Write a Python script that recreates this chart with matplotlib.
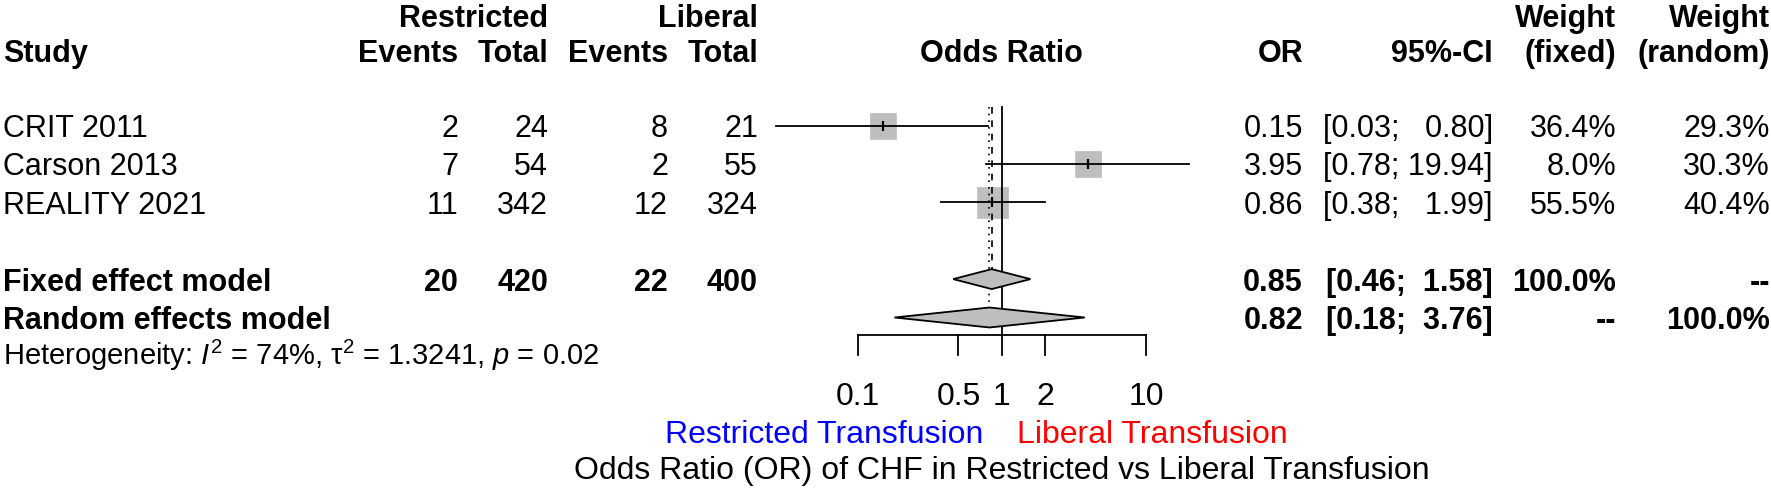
import numpy as np
import matplotlib
matplotlib.use("Agg")
import matplotlib.pyplot as plt
from matplotlib.patches import Polygon

plt.rcParams['font.family'] = ['Liberation Sans', 'DejaVu Sans']
plt.rcParams['mathtext.fontset'] = 'custom'
plt.rcParams['mathtext.rm'] = 'Liberation Sans'
plt.rcParams['mathtext.it'] = 'Liberation Sans:italic'
plt.rcParams['mathtext.bf'] = 'Liberation Sans:bold'

# ------------------------------------------------------- данные
studies = ["CRIT 2011", "Carson 2013", "REALITY 2021"]
ev_r = [2, 7, 11]
n_r = [24, 54, 342]
ev_l = [8, 2, 12]
n_l = [21, 55, 324]
or_est = [0.15, 3.95, 0.86]
ci_lo = [0.027, 0.78, 0.38]
ci_hi = [0.80, 19.94, 1.99]
w_fixed = [36.4, 8.0, 55.5]
w_random = [29.3, 30.3, 40.4]

pooled_names = ["Fixed effect model", "Random effects model"]
pooled_or = [0.85, 0.82]
pooled_lo = [0.46, 0.18]
pooled_hi = [1.58, 3.76]
pooled_wf = ["100.0%", "--"]
pooled_wr = ["--", "100.0%"]
pooled_ev_r, pooled_n_r = 20, 420
pooled_ev_l, pooled_n_l = 22, 400

ticks = [0.1, 0.5, 1, 2, 10]
het_text = (r"Heterogeneity: $\mathit{I}^{2}$ = 74%, "
            r"$\mathrm{\tau}^{2}$ = 1.3241, $\mathit{p}$ = 0.02")

# ------------------------------------------------------- разметка
W, H = 1771, 490
ROW0, ROWH = 125.5, 38.4          # пиксель первой строки и шаг
ylim = ((H - ROW0) / ROWH, -ROW0 / ROWH)
FS, FS_HET, FS_BOT = 22, 21, 23
X_STUDY, X_EVR, X_NR, X_EVL, X_NL = 3, 458, 548, 668, 758
X_OR, X_CI, X_WF, X_WR = 1303, 1493, 1616, 1770
GREY = "#bebebe"

fig = plt.figure(figsize=(W / 100, H / 100), dpi=100)
tx = fig.add_axes([0, 0, 1, 1])
tx.set_xlim(0, W); tx.set_ylim(*ylim); tx.axis("off")
fx = fig.add_axes([857.7 / W, 0, 288.3 / W, 1])
fx.set_xscale("log"); fx.set_xlim(0.1, 10); fx.set_ylim(*ylim); fx.axis("off")


def put(x, y, s, ha="right", bold=False, size=FS, **kw):
    tx.text(x, y, s, ha=ha, va="center_baseline", fontsize=size,
            fontweight="bold" if bold else "normal", **kw)


# заголовки
put(X_NR, -2.87, "Restricted", bold=True)
put(X_NL, -2.87, "Liberal", bold=True)
put(X_WF, -2.87, "Weight", bold=True)
put(X_WR, -2.87, "Weight", bold=True)
put(X_STUDY, -1.96, "Study", ha="left", bold=True)
for x, s in [(X_EVR, "Events"), (X_NR, "Total"), (X_EVL, "Events"),
             (X_NL, "Total"), (X_OR, "OR"), (X_CI, "95%-CI"),
             (X_WF, "(fixed)"), (X_WR, "(random)")]:
    put(x, -1.96, s, bold=True)
fx.text(1, -1.96, "Odds Ratio", ha="center", va="center_baseline",
        fontsize=FS, fontweight="bold")

# исследования
for i, name in enumerate(studies):
    put(X_STUDY, i, name, ha="left")
    put(X_EVR, i, str(ev_r[i])); put(X_NR, i, str(n_r[i]))
    put(X_EVL, i, str(ev_l[i])); put(X_NL, i, str(n_l[i]))
    put(X_OR, i, f"{or_est[i]:.2f}")
    put(X_CI, i, f"[{ci_lo[i]:.2f}; {ci_hi[i]:5.2f}]".replace(" ", "  ", 1)
        if ci_hi[i] < 10 else f"[{ci_lo[i]:.2f}; {ci_hi[i]:.2f}]")
    put(X_WF, i, f"{w_fixed[i]:.1f}%"); put(X_WR, i, f"{w_random[i]:.1f}%")

    side = 31 * np.sqrt(w_random[i] / max(w_random)) * 0.72
    fx.plot([or_est[i]], [i], marker="s", ms=side, color=GREY, mec=GREY,
            mew=0.5, zorder=2, clip_on=False)
    fx.plot([ci_lo[i], ci_hi[i]], [i, i], color="black", lw=1.3, zorder=3,
            clip_on=False)
    fx.plot([or_est[i]], [i], marker="|", ms=6.5, mew=1.6, color="black",
            zorder=4, clip_on=False)

# сводные оценки
for k, name in enumerate(pooled_names):
    y = 4 + k
    put(X_STUDY, y, name, ha="left", bold=True)
    if k == 0:
        put(X_EVR, y, str(pooled_ev_r), bold=True)
        put(X_NR, y, str(pooled_n_r), bold=True)
        put(X_EVL, y, str(pooled_ev_l), bold=True)
        put(X_NL, y, str(pooled_n_l), bold=True)
    put(X_OR, y, f"{pooled_or[k]:.2f}", bold=True)
    put(X_CI, y, f"[{pooled_lo[k]:.2f};  {pooled_hi[k]:.2f}]", bold=True)
    put(X_WF, y, pooled_wf[k], bold=True)
    put(X_WR, y, pooled_wr[k], bold=True)
    h = 0.26
    fx.add_patch(Polygon([(pooled_lo[k], y), (pooled_or[k], y - h),
                          (pooled_hi[k], y), (pooled_or[k], y + h)],
                         closed=True, facecolor=GREY, edgecolor="black",
                         lw=1.3, zorder=3, clip_on=False))

put(X_STUDY, 5.87, het_text, ha="left", size=FS_HET)

# линии: нулевая, фиксированная (пунктир), случайная (точки)
AX_Y = 5.456
fx.plot([1, 1], [-0.49, AX_Y], color="black", lw=1.3, clip_on=False)
fx.plot([pooled_or[0]] * 2, [-0.49, 4 - 0.26], color="black", lw=1.2,
        ls=(0, (4, 4)), clip_on=False)
fx.plot([pooled_or[1]] * 2, [-0.49, 5 - 0.26], color="black", lw=1.2,
        ls=(0, (1, 3)), clip_on=False)

# ось
fx.plot([ticks[0], ticks[-1]], [AX_Y, AX_Y], color="black", lw=1.3,
        clip_on=False)
for t in ticks:
    fx.plot([t, t], [AX_Y, 5.98], color="black", lw=1.3, clip_on=False)
    fx.text(t, 6.97, f"{t:g}", ha="center", va="center_baseline",
            fontsize=FS_BOT)

fx.annotate("Restricted Transfusion", (1, 7.97), xytext=(-13, 0),
            textcoords="offset points", ha="right", va="center_baseline",
            fontsize=FS_BOT, color="blue")
fx.annotate("Liberal Transfusion", (1, 7.97), xytext=(11, 0),
            textcoords="offset points", ha="left", va="center_baseline",
            fontsize=FS_BOT, color="red")
fx.text(1, 8.91, "Odds Ratio (OR) of CHF in Restricted vs Liberal Transfusion",
        ha="center", va="center_baseline", fontsize=FS_BOT)

fig.savefig("out.png", dpi=100)
